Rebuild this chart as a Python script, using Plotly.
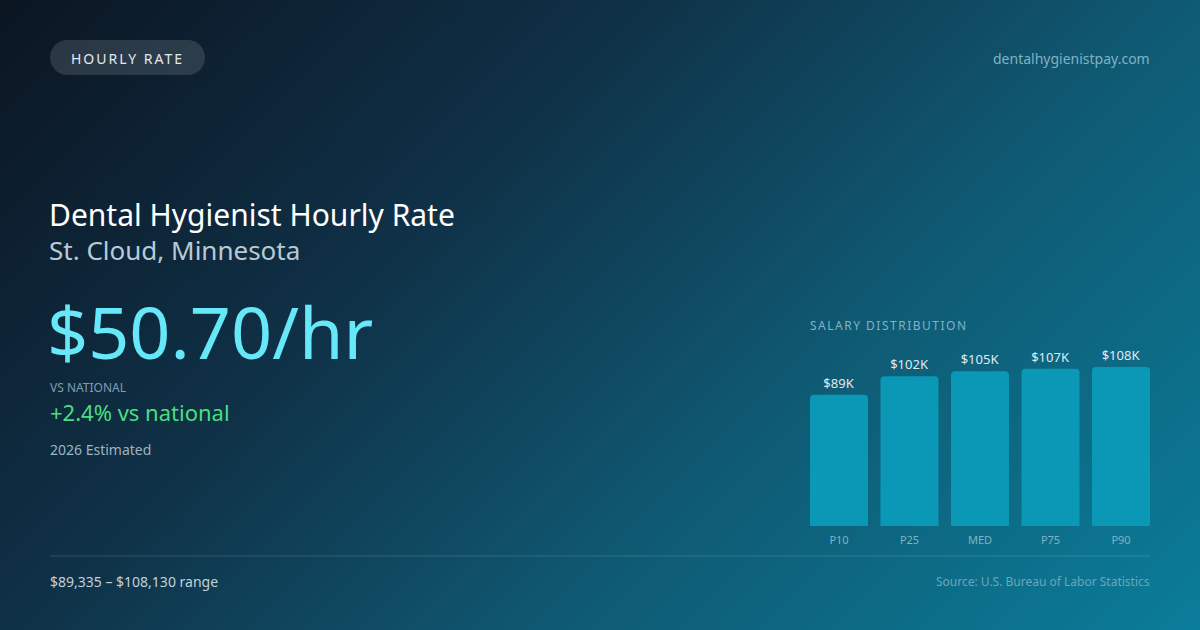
import numpy as np
import plotly.graph_objects as go

# data
categories = ['P10', 'P25', 'MED', 'P75', 'P90']
salaries = [89335, 101800, 105200, 106900, 108130]
value_labels = ['$89K', '$102K', '$105K', '$107K', '$108K']

W, H = 1200, 630
FONT = 'Noto Sans'

# background gradient (135deg, dark navy -> teal)
gx = np.linspace(0, W, 61)
gy = np.linspace(0, H, 33)
GX, GY = np.meshgrid(gx, gy)
gz = (GX + GY) / (W + H)

fig = go.Figure()
fig.add_trace(go.Heatmap(
    x=gx, y=gy, z=gz, zmin=0, zmax=1, zsmooth='best', showscale=False,
    hoverinfo='skip',
    colorscale=[[0, '#0b1522'], [0.35, '#0f3147'], [0.65, '#0f5a73'], [1, '#0a7d9a']],
    xaxis='x', yaxis='y'))

fig.add_trace(go.Bar(
    x=categories, y=salaries, text=value_labels, texttemplate='%{text}',
    textposition='outside', cliponaxis=False,
    textfont=dict(family=FONT, size=13, color='#e2e8f0'),
    marker=dict(color='#0a98b6', cornerradius=4, line=dict(width=0)),
    hoverinfo='skip', xaxis='x2', yaxis='y2'))

fig.update_layout(
    width=W, height=H, margin=dict(l=0, r=0, t=0, b=0),
    paper_bgcolor='#0f3147', plot_bgcolor='rgba(0,0,0,0)',
    showlegend=False, bargap=0.177,
    font=dict(family=FONT),
    xaxis=dict(range=[0, W], domain=[0, 1], visible=False, fixedrange=True),
    yaxis=dict(range=[H, 0], domain=[0, 1], visible=False, fixedrange=True),
    xaxis2=dict(domain=[803.75 / W, 1156.25 / W], anchor='y2', showgrid=False,
                zeroline=False, showline=False, ticks='', ticklabelstandoff=6,
                tickfont=dict(family=FONT, size=11, color='#7fb3c6')),
    yaxis2=dict(domain=[(H - 526) / H, (H - 367) / H], anchor='x2',
                range=[0, max(salaries)], visible=False),
)

pill = ('M 67.5 40 H 187.5 C 197.2 40 205 47.8 205 57.5 C 205 67.2 197.2 75 187.5 75 '
        'H 67.5 C 57.8 75 50 67.2 50 57.5 C 50 47.8 57.8 40 67.5 40 Z')
fig.add_shape(type='path', path=pill, xref='x', yref='y',
              fillcolor='rgba(255,255,255,0.13)', line=dict(width=0))
fig.add_shape(type='line', x0=50, x1=1150, y0=556, y1=556, xref='x', yref='y',
              line=dict(color='rgba(255,255,255,0.15)', width=1))


def note(x, y, text, size, color, anchor='left'):
    fig.add_annotation(x=x, y=y, xref='x', yref='y', text=text, showarrow=False,
                       xanchor=anchor, yanchor='middle',
                       font=dict(family=FONT, size=size, color=color))


note(127.5, 58, '<span style="letter-spacing:2px">HOURLY RATE</span>', 14, '#e2e8f0', 'center')
note(1152, 58, 'dentalhygienistpay.com', 14, '#7fb2c6', 'right')
note(47, 214, 'Dental Hygienist Hourly Rate', 30, '#ffffff')
note(47, 250, 'St. Cloud, Minnesota', 26, '#b9cad5')
note(45, 331, '$50.70/hr', 72, '#67e8f9')
note(48, 387, 'VS NATIONAL', 12, '#7f9fb0')
note(48, 412, '+2.4% vs national', 22, '#4ade80')
note(48, 449, '2026 Estimated', 14, '#9fb3c0')
note(808, 325, '<span style="letter-spacing:1.5px">SALARY DISTRIBUTION</span>', 12, '#7fb3c6')
note(48, 581, '$89,335 – $108,130 range', 14, '#c4d0d8')
note(1152, 581, 'Source: U.S. Bureau of Labor Statistics', 12, '#6fa5b8', 'right')

fig.write_html('out.html', config={'displayModeBar': False},
               post_script="document.body.style.margin='0';")
